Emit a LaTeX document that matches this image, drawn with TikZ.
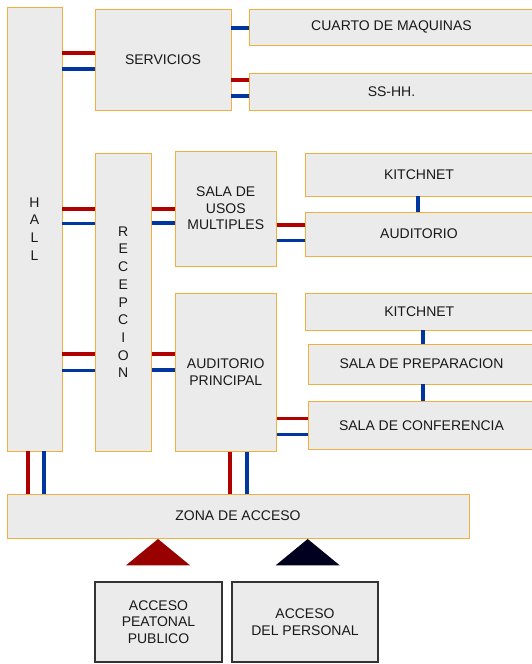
\documentclass[tikz,border=0pt]{standalone}
\usepackage{fontspec}
\setmainfont{Liberation Sans}
\definecolor{boxfill}{HTML}{EBEBEB}
\definecolor{boxedge}{HTML}{F0B040}
\definecolor{linered}{HTML}{B00000}
\definecolor{lineblue}{HTML}{0036A0}
\definecolor{trired}{HTML}{990000}
\definecolor{trinavy}{HTML}{00001F}
\definecolor{darkedge}{HTML}{333333}
\begin{document}
\begin{tikzpicture}[x=1pt,y=-1pt,
  room/.style={draw=boxedge,fill=boxfill,line width=1pt,inner sep=0pt,outer sep=0pt,
    align=center,text=black!90,font=\fontsize{14}{16.5}\selectfont},
  vroom/.style={room,font=\fontsize{14}{17.7}\selectfont},
  accbox/.style={draw=darkedge,fill=boxfill,line width=1.8pt,inner sep=0pt,outer sep=0pt,
    align=center,text=black!90,font=\fontsize{14}{16.5}\selectfont},
  rl/.style={draw=linered,line width=3.6pt},
  bl/.style={draw=lineblue,line width=3.6pt}]
\useasboundingbox (0,0) rectangle (532,664);
\clip (0,0) rectangle (532,664);
% rooms
\node[vroom,minimum width=55pt,minimum height=444pt] (hall) at (34.5,229) {H\\A\\L\\L};
\node[room,minimum width=136pt,minimum height=100.5pt] (serv) at (163,59.75) {SERVICIOS};
\node[room,minimum width=285pt,minimum height=35.5pt] (cuarto) at (391.5,27.25) {CUARTO DE MAQUINAS};
\node[room,minimum width=285pt,minimum height=37pt] (sshh) at (391.5,91.5) {SS-HH.};
\node[vroom,minimum width=56.5pt,minimum height=298.5pt] (recep) at (123.25,302.25) {R\\E\\C\\E\\P\\C\\I\\O\\N};
\node[room,minimum width=101.5pt,minimum height=115pt] (sum) at (225.75,208.5) {SALA DE\\USOS\\MULTIPLES};
\node[room,minimum width=228pt,minimum height=43pt] (kit1) at (419,174.5) {KITCHNET};
\node[room,minimum width=228pt,minimum height=44pt] (audi) at (419,234) {AUDITORIO};
\node[room,minimum width=101.5pt,minimum height=158.5pt] (ap) at (225.75,372.25) {AUDITORIO\\PRINCIPAL};
\node[room,minimum width=227.5pt,minimum height=37pt] (kit2) at (419.25,311.5) {KITCHNET};
\node[room,minimum width=227pt,minimum height=40pt] (prep) at (421.5,364) {SALA DE PREPARACION};
\node[room,minimum width=227pt,minimum height=48.5pt] (conf) at (421.5,425.25) {SALA DE CONFERENCIA};
\node[room,minimum width=462pt,minimum height=44pt] (zona) at (238,516) {ZONA DE ACCESO};
\node[accbox,minimum width=127pt,minimum height=80pt] (peat) at (158.5,622) {ACCESO\\PEATONAL\\PUBLICO};
\node[accbox,minimum width=146pt,minimum height=80pt] (pers) at (305,622) {ACCESO\\DEL PERSONAL};
% connectors
\draw[rl] (hall.east |- 0,53) -- (serv.west |- 0,53);
\draw[bl] (hall.east |- 0,69) -- (serv.west |- 0,69);
\draw[bl] (serv.east |- 0,28) -- (cuarto.west |- 0,28);
\draw[rl] (serv.east |- 0,80) -- (sshh.west |- 0,80);
\draw[bl] (serv.east |- 0,96) -- (sshh.west |- 0,96);
\draw[rl] (hall.east |- 0,208.7) -- (recep.west |- 0,208.7);
\draw[bl] (hall.east |- 0,223.5) -- (recep.west |- 0,223.5);
\draw[rl] (recep.east |- 0,208.7) -- (sum.west |- 0,208.7);
\draw[bl] (recep.east |- 0,223.2) -- (sum.west |- 0,223.2);
\draw[rl] (sum.east |- 0,224.7) -- (audi.west |- 0,224.7);
\draw[bl] (sum.east |- 0,240.3) -- (audi.west |- 0,240.3);
\draw[bl] (kit1.south -| 417.7,0) -- (audi.north -| 417.7,0);
\draw[rl] (hall.east |- 0,354) -- (recep.west |- 0,354);
\draw[bl] (hall.east |- 0,370.5) -- (recep.west |- 0,370.5);
\draw[rl] (recep.east |- 0,354) -- (ap.west |- 0,354);
\draw[bl] (recep.east |- 0,370) -- (ap.west |- 0,370);
\draw[rl] (ap.east |- 0,418.3) -- (conf.west |- 0,418.3);
\draw[bl] (ap.east |- 0,434.3) -- (conf.west |- 0,434.3);
\draw[bl] (kit2.south -| 423,0) -- (prep.north -| 423,0);
\draw[bl] (prep.south -| 423,0) -- (conf.north -| 423,0);
\draw[rl] (hall.south -| 27.7,0) -- (zona.north -| 27.7,0);
\draw[bl] (hall.south -| 44,0) -- (zona.north -| 44,0);
\draw[rl] (ap.south -| 230,0) -- (zona.north -| 230,0);
\draw[bl] (ap.south -| 246.7,0) -- (zona.north -| 246.7,0);
% access arrows
\fill[trired] (126,565.3) -- (190,565.3) -- (158,539) -- cycle;
\fill[trinavy] (275.7,565.3) -- (339.7,565.3) -- (307.7,539) -- cycle;
\end{tikzpicture}
\end{document}
